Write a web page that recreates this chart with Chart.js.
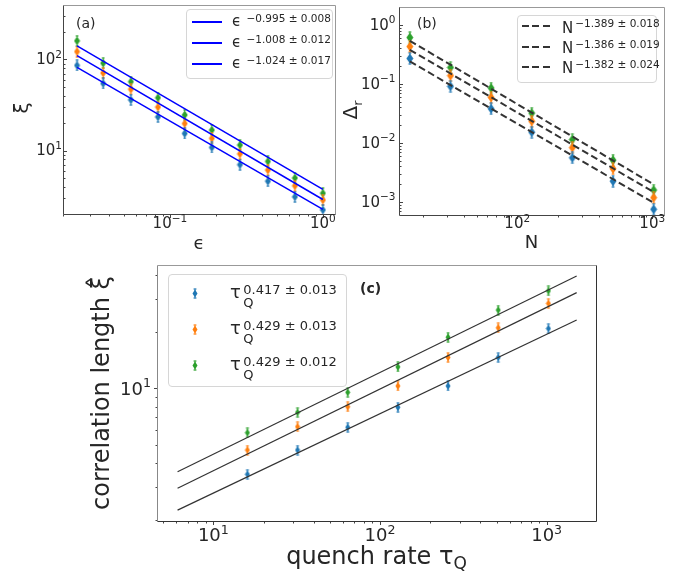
<!DOCTYPE html>
<html lang="en">
  <head>
    <meta charset="UTF-8" />
    <title>Scaling of correlation length</title>
    <script src="https://cdn.jsdelivr.net/npm/chart.js"></script>
    <style>
      body {
        margin: 0;
        background: #fff;
        font-family: "DejaVu Sans", sans-serif;
        color: #262626;
      }
      #wrap {
        position: relative;
        width: 684px;
        height: 579px;
        overflow: hidden;
      }
      canvas {
        position: absolute;
      }
      .txt {
        position: absolute;
        line-height: 1;
        white-space: nowrap;
      }
      .box {
        position: absolute;
        border: 1px solid #d6d6d6;
        border-radius: 4px;
        background: rgba(255, 255, 255, 0.8);
        box-sizing: border-box;
      }
      .solid {
        position: absolute;
        height: 2px;
        background: #0000ff;
      }
      .dash {
        position: absolute;
        height: 2px;
        background: repeating-linear-gradient(90deg, #333 0 7px, transparent 7px 10.5px);
      }
    </style>
  </head>
  <body>
    <div id="wrap">
      <canvas id="chartA" width="342" height="250" style="left:0;top:0"></canvas>
      <canvas id="chartB" width="342" height="250" style="left:342px;top:0"></canvas>
      <canvas id="chartC" width="684" height="329" style="left:0;top:250px"></canvas>
    </div>

    <script>
      // ---- panel (a): xi vs epsilon ----
      const epsA = [0.0247, 0.0366, 0.0556, 0.0835, 0.125, 0.188, 0.287, 0.437, 0.656, 1.0];
      const xiBlueA = [86, 54.5, 36, 23.4, 15.4, 10.8, 7.0, 4.6, 3.1, 2.23];
      const xiOrangeA = [122, 71, 47, 30, 19.8, 13.6, 9.2, 6.1, 4.1, 2.86];
      const xiGreenA = [160, 91, 57, 38, 24.6, 16.8, 11.5, 7.6, 5.0, 3.4];
      const fitXA = [0.0247, 1.0];
      const fitGreenA = [141, 3.74];
      const fitOrangeA = [110, 2.9];
      const fitBlueA = [82, 2.26];
      const legendA = ["−0.995 ± 0.008", "−1.008 ± 0.012", "−1.024 ± 0.017"];

      // ---- panel (b): Delta_r vs N ----
      const nB = [16, 32, 64, 128, 256, 512, 1024];
      const dBlueB = [0.27, 0.091, 0.038, 0.0152, 0.0056, 0.00225, 0.00075];
      const dOrangeB = [0.43, 0.138, 0.059, 0.0233, 0.0083, 0.00365, 0.00118];
      const dGreenB = [0.61, 0.19, 0.085, 0.032, 0.0114, 0.0051, 0.00159];
      const fitXB = [16, 1024];
      const fitTopB = [0.537, 0.00198];
      const fitMidB = [0.378, 0.00147];
      const fitLowB = [0.24, 0.00097];
      const legendB = ["−1.389 ± 0.018", "−1.386 ± 0.019", "−1.382 ± 0.024"];

      // ---- panel (c): correlation length vs quench rate ----
      const tauC = [16, 32, 64, 128, 256, 512, 1024];
      const xiBlueC = [3.49, 4.7, 6.21, 7.93, 10.3, 14.6, 20.8];
      const xiOrangeC = [4.7, 6.25, 7.98, 10.3, 14.6, 21.0, 28.3];
      const xiGreenC = [5.81, 7.45, 9.52, 13.0, 18.7, 26.1, 33.0];
      const fitXC = [6.1, 1514];
      const fitTopC = [3.6, 39.6];
      const fitMidC = [2.94, 32.3];
      const fitLowC = [2.25, 23.1];
      const legendC = ["0.417 ± 0.013", "0.429 ± 0.013", "0.429 ± 0.012"];

      // labelled ticks (value -> exponent of 10)
      const xTicksA = [0.1, 1], xExpA = ["−1", "0"];
      const yTicksA = [10, 100], yExpA = ["1", "2"];
      const xTicksB = [100, 1000], xExpB = ["2", "3"];
      const yTicksB = [0.001, 0.01, 0.1, 1], yExpB = ["−3", "−2", "−1", "0"];
      const xTicksC = [10, 100, 1000], xExpC = ["1", "2", "3"];
      const yTicksC = [10], yExpC = ["1"];

      const BLUE = "#1f77b4", ORANGE = "#ff7f0e", GREEN = "#2ca02c";

      const pts = (xs, ys) => xs.map((x, i) => ({ x, y: ys[i] }));

      // thin diamond marker with its small error bar
      function diamond(color, w, h, bar) {
        const c = document.createElement("canvas");
        c.width = w + 1;
        c.height = h + 2 * bar + 1;
        const g = c.getContext("2d");
        const cx = c.width / 2, cy = c.height / 2;
        g.strokeStyle = color;
        g.lineWidth = 1;
        g.beginPath();
        g.moveTo(cx, cy - h / 2 - bar);
        g.lineTo(cx, cy + h / 2 + bar);
        g.moveTo(cx - 1.5, cy - h / 2 - bar + 0.5);
        g.lineTo(cx + 1.5, cy - h / 2 - bar + 0.5);
        g.moveTo(cx - 1.5, cy + h / 2 + bar - 0.5);
        g.lineTo(cx + 1.5, cy + h / 2 + bar - 0.5);
        g.stroke();
        g.fillStyle = color;
        g.beginPath();
        g.moveTo(cx, cy - h / 2);
        g.lineTo(cx + w / 2, cy);
        g.lineTo(cx, cy + h / 2);
        g.lineTo(cx - w / 2, cy);
        g.closePath();
        g.fill();
        return c;
      }

      function markers(data, color, w, h) {
        return {
          data,
          pointStyle: diamond(color, w, h, 1),
          pointRadius: 4,
          showLine: false,
          order: 2,
        };
      }
      function fit(data, color, width, dash) {
        return {
          data,
          showLine: true,
          pointRadius: 0,
          borderColor: color,
          borderWidth: width,
          borderDash: dash || [],
          order: 1,
        };
      }

      function logTicks(min, max) {
        const out = [];
        for (let e = Math.floor(Math.log10(min)); e <= Math.ceil(Math.log10(max)); e++) {
          for (let m = 1; m < 10; m++) {
            const v = +(m * Math.pow(10, e)).toPrecision(6);
            if (v >= min * 0.999 && v <= max * 1.001) out.push(v);
          }
        }
        return out;
      }
      const isLabelled = (v, ticks) => ticks.some((t) => Math.abs(v - t) / t < 1e-6);

      // frame and tick marks, matplotlib style
      const axisFrame = {
        id: "axisFrame",
        afterDraw(chart, args, o) {
          const { ctx, chartArea: a } = chart;
          const L = Math.floor(a.left) + 0.5, R = Math.floor(a.right) + 0.5;
          const T = Math.floor(a.top) + 0.5, B = Math.floor(a.bottom) + 0.5;
          ctx.save();
          ctx.lineWidth = 1;
          ctx.strokeStyle = o.tick;
          for (const id of ["x", "y"]) {
            const s = chart.scales[id];
            for (const t of s.ticks) {
              const len = t.major ? 3.5 : 2;
              const p = Math.round(s.getPixelForValue(t.value)) + 0.5;
              ctx.beginPath();
              if (id === "x") {
                ctx.moveTo(p, B);
                ctx.lineTo(p, B + len);
              } else {
                const d = o.yIn ? 1 : -1;
                ctx.moveTo(L, p);
                ctx.lineTo(L + d * len, p);
              }
              ctx.stroke();
            }
          }
          const side = (c, x1, y1, x2, y2) => {
            ctx.strokeStyle = c;
            ctx.beginPath();
            ctx.moveTo(x1, y1);
            ctx.lineTo(x2, y2);
            ctx.stroke();
          };
          side(o.top, L, T, R, T);
          side(o.right, R, T, R, B);
          side(o.left, L, T, L, B);
          side(o.bottom, L, B, R, B);
          ctx.restore();
        },
      };

      function axis(dir, s, size) {
        return {
          type: "logarithmic",
          position: dir === "x" ? "bottom" : "left",
          min: s.min,
          max: s.max,
          grid: { display: false, drawTicks: false },
          border: { display: false },
          afterBuildTicks: (sc) => {
            sc.ticks = logTicks(s.min, s.max).map((v) => ({ value: v, major: isLabelled(v, s.ticks) }));
          },
          afterFit: (sc) => {
            if (dir === "x") sc.height = size;
            else sc.width = size;
          },
          ticks: { display: false, autoSkip: false },
        };
      }

      function panel(id, W, H, area, xs, ys, datasets, frame) {
        return new Chart(document.getElementById(id), {
          type: "scatter",
          data: { datasets },
          options: {
            responsive: false,
            animation: false,
            events: [],
            layout: { padding: { top: area.top, right: W - area.right, left: 0, bottom: 0 } },
            plugins: { legend: { display: false }, tooltip: { enabled: false }, axisFrame: frame },
            scales: { x: axis("x", xs, H - area.bottom), y: axis("y", ys, area.left) },
          },
          plugins: [axisFrame],
        });
      }

      const chartA = panel(
        "chartA", 342, 250, { left: 63, top: 3, right: 335, bottom: 214 },
        { min: 0.02, max: 1.2, ticks: xTicksA },
        { min: 2.01, max: 396, ticks: yTicksA },
        [
          fit(pts(fitXA, fitGreenA), "#0000ff", 1.5),
          fit(pts(fitXA, fitOrangeA), "#0000ff", 1.5),
          fit(pts(fitXA, fitBlueA), "#0000ff", 1.5),
          markers(pts(epsA, xiBlueA), BLUE, 6, 9),
          markers(pts(epsA, xiOrangeA), ORANGE, 6, 9),
          markers(pts(epsA, xiGreenA), GREEN, 6, 9),
        ],
        { tick: "#444", yIn: true, top: "#999", right: "#999", left: "#444", bottom: "#444" }
      );

      const chartB = panel(
        "chartB", 342, 250, { left: 57, top: 7, right: 322, bottom: 215 },
        { min: 13.3, max: 1222, ticks: xTicksB },
        { min: 0.00062, max: 2.01, ticks: yTicksB },
        [
          fit(pts(fitXB, fitTopB), "#333", 2, [7, 3.5]),
          fit(pts(fitXB, fitMidB), "#333", 2, [7, 3.5]),
          fit(pts(fitXB, fitLowB), "#333", 2, [7, 3.5]),
          markers(pts(nB, dBlueB), BLUE, 7, 10),
          markers(pts(nB, dOrangeB), ORANGE, 7, 10),
          markers(pts(nB, dGreenB), GREEN, 7, 10),
        ],
        { tick: "#444", yIn: true, top: "#999", right: "#999", left: "#444", bottom: "#444" }
      );

      const chartC = panel(
        "chartC", 684, 329, { left: 157, top: 15, right: 596, bottom: 271 },
        { min: 4.59, max: 1977, ticks: xTicksC },
        { min: 1.97, max: 45.3, ticks: yTicksC },
        [
          fit(pts(fitXC, fitTopC), "#333", 1.2),
          fit(pts(fitXC, fitMidC), "#333", 1.2),
          fit(pts(fitXC, fitLowC), "#333", 1.2),
          markers(pts(tauC, xiBlueC), BLUE, 5, 8),
          markers(pts(tauC, xiOrangeC), ORANGE, 5, 8),
          markers(pts(tauC, xiGreenC), GREEN, 5, 8),
        ],
        { tick: "#444", yIn: false, top: "#999", right: "#333", left: "#888", bottom: "#333" }
      );

      // ---- html text: tick labels, titles, legends ----
      const wrap = document.getElementById("wrap");
      function put(html, x, y, size, o = {}) {
        const d = document.createElement("div");
        d.className = "txt";
        d.innerHTML = html;
        d.style.fontSize = size + "px";
        d.style.left = x + "px";
        if (o.center) {
          d.style.top = y + "px";
          d.style.transform = "translate(-50%,-50%)" + (o.rot ? " rotate(-90deg)" : "");
        } else {
          d.style.top = y - 0.846 * size + "px"; // y = baseline
          if (o.align === "center") d.style.transform = "translateX(-50%)";
          if (o.align === "right") d.style.transform = "translateX(-100%)";
        }
        if (o.bold) d.style.fontWeight = "bold";
        wrap.appendChild(d);
        return d;
      }
      const pow10 = (e, f) =>
        `10<span style="font-size:${0.7 * f}px;position:relative;top:${-0.42 * f}px">${e}</span>`;

      // tick labels placed from the chart's own scales
      function tickLabels(chart, ox, oy, ticks, exps, dir, f, gap) {
        const s = chart.scales[dir], a = chart.chartArea;
        ticks.forEach((v, i) => {
          const p = s.getPixelForValue(v);
          if (dir === "x") put(pow10(exps[i], f), ox + p, oy + a.bottom + gap, f, { align: "center" });
          else put(pow10(exps[i], f), ox + a.left - gap, oy + p + 0.365 * f, f, { align: "right" });
        });
      }
      tickLabels(chartA, 0, 0, xTicksA, xExpA, "x", 15, 15);
      tickLabels(chartA, 0, 0, yTicksA, yExpA, "y", 15, 1);
      tickLabels(chartB, 342, 0, xTicksB, xExpB, "x", 15, 14);
      tickLabels(chartB, 342, 0, yTicksB, yExpB, "y", 15, 3.5);
      tickLabels(chartC, 0, 250, xTicksC, xExpC, "x", 18, 20.7);
      tickLabels(chartC, 0, 250, yTicksC, yExpC, "y", 18, 6);

      function box(l, t, r, b) {
        const d = document.createElement("div");
        d.className = "box";
        Object.assign(d.style, { left: l + "px", top: t + "px", width: r - l + "px", height: b - t + "px" });
        wrap.appendChild(d);
      }
      function sample(cls, x1, x2, y) {
        const d = document.createElement("div");
        d.className = cls;
        Object.assign(d.style, { left: x1 + "px", top: y - 1 + "px", width: x2 - x1 + "px" });
        wrap.appendChild(d);
      }

      // panel labels and axis titles
      put("(a)", 76, 28, 14);
      put("(b)", 417, 28, 14);
      put("(c)", 360, 293, 14, { bold: true });
      put("ξ", 21, 108, 20, { center: true, rot: true });
      put("ϵ", 199, 243, 18, { center: true });
      put("Δ<sub style='font-size:13px'>r</sub>", 352, 110, 20, { center: true, rot: true });
      put("N", 531.5, 242, 18, { center: true });
      put("correlation length ξ&#770;", 101, 393, 24, { center: true, rot: true });
      put("quench rate τ<sub style='font-size:17px'>Q</sub>", 376.5, 558, 24, { center: true });

      // legend (a)
      box(186, 9, 333, 79);
      [22, 43.3, 64.3].forEach((y, i) => {
        sample("solid", 192, 222, y);
        put("ϵ", 232, y + 4.7, 15);
        put(legendA[i], 246.5, y - 0.3, 10.5);
      });

      // legend (b)
      box(517, 15, 657, 83);
      [26, 46.7, 66.7].forEach((y, i) => {
        sample("dash", 522, 550, y);
        put("N", 562, y + 7.3, 15);
        put(legendB[i], 575.3, y + 1.3, 10.5);
      });

      // legend (c)
      box(167.7, 274, 346.7, 386.7);
      const legColors = [BLUE, ORANGE, GREEN];
      [293.3, 329.3, 365.3].forEach((y, i) => {
        const c = diamond(legColors[i], 5, 8, 1);
        c.style.left = 195 - c.width / 2 + "px";
        c.style.top = y - c.height / 2 + "px";
        wrap.appendChild(c);
        put("τ", 230, y + 4.7, 18);
        put(legendC[i], 243.3, y + 0.3, 13);
        put("Q", 243.3, y + 13.3, 13);
      });
    </script>
  </body>
</html>
